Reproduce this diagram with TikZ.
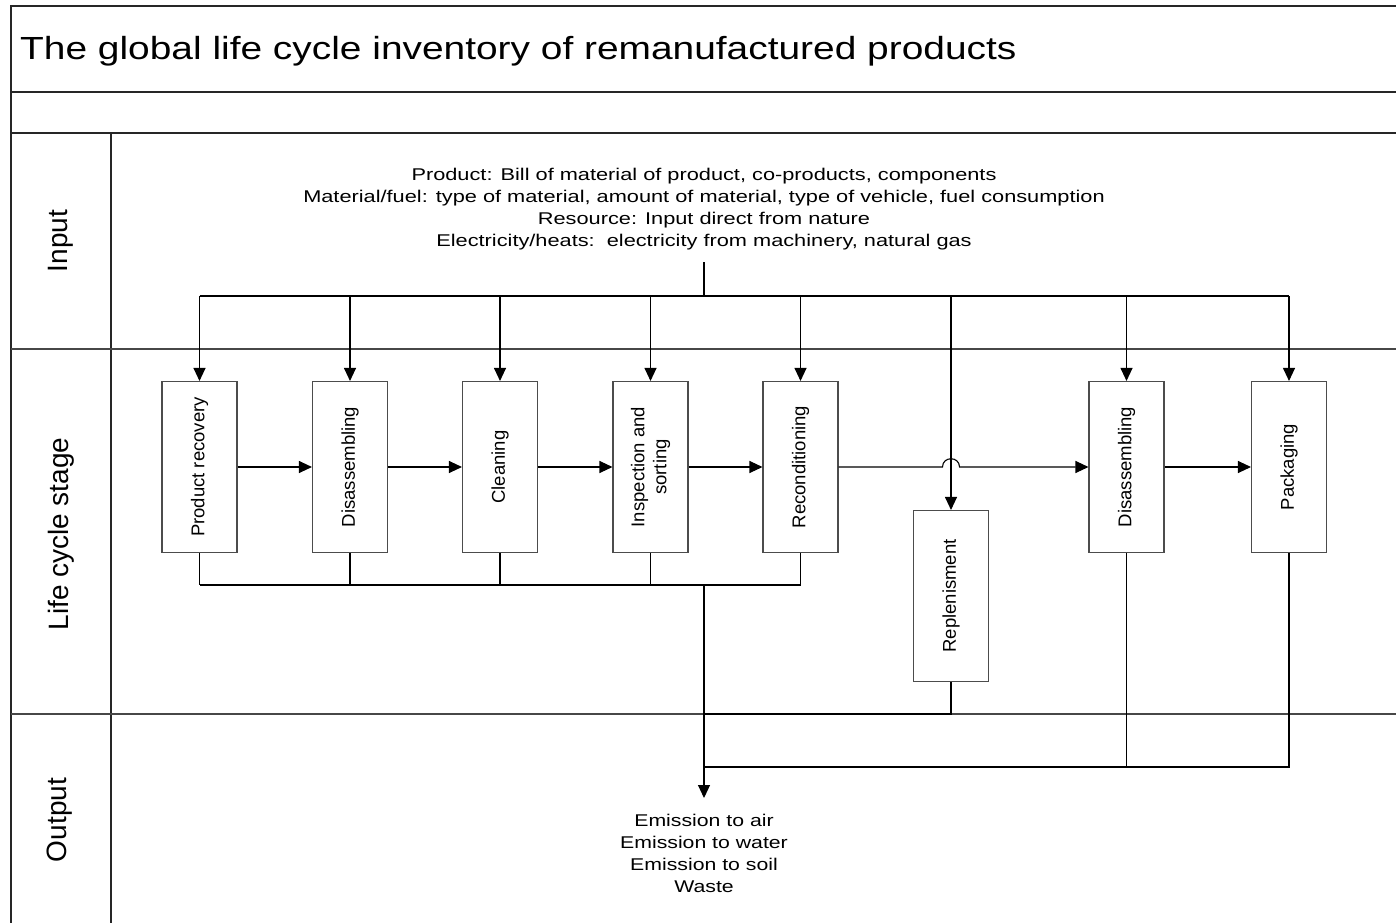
\documentclass[tikz,border=0pt]{standalone}
\usepackage{fontspec}
\usepackage{graphicx}
\setmainfont{Liberation Sans}
\usetikzlibrary{arrows.meta}
\newcommand{\hstretch}[2][1.28]{\scalebox{#1}[1]{#2}}
\begin{document}
\begin{tikzpicture}[x=1pt,y=-1pt,
  frame/.style={draw=black!85, line width=1.3pt},
  lane/.style={draw=black!72, line width=1.7pt},
  conn/.style={draw=black, line width=1.1pt},
  arr/.style={conn, -{Triangle[width=12pt,length=13pt]}},
  stage/.style={draw=black!70, line width=1.1pt, fill=white, minimum width=75pt, minimum height=171pt, inner sep=0pt},
  lbl/.style={rotate=90, font=\fontsize{18.5}{22}\selectfont, align=center, inner sep=0pt},
  lanelbl/.style={rotate=90, font=\fontsize{28}{32}\selectfont, inner sep=0pt},
  txt/.style={font=\fontsize{17}{22}\selectfont, align=center, inner sep=0pt}]
\useasboundingbox (0,0) rectangle (1396,923);
\fill[white] (0,0) rectangle (1396,923);
% frame and lanes
\draw[frame] (1396,6) -- (11,6) -- (11,923);
\draw[frame] (11,92) -- (1396,92);
\draw[frame] (11,133) -- (1396,133);
\draw[frame] (111,133) -- (111,923);
\draw[lane] (11,349) -- (1396,349);
\draw[lane] (11,714) -- (1396,714);
% title
\node[anchor=base west, inner sep=0pt, font=\fontsize{32}{38}\selectfont] (title) at (20,60) {\hstretch[1.215]{The global life cycle inventory of remanufactured products}};
% lane labels
\node[lanelbl] (linput) at (61,241) {Input};
\node[lanelbl] (lstage) at (61,534) {Life cycle stage};
\node[lanelbl] (loutput) at (60,820) {Output};
% input text
\node[txt] (intext) at (704,209) {\hstretch{Product: Bill of material of product, co-products, components}\\
\hstretch{Material/fuel: type of material, amount of material, type of vehicle, fuel consumption}\\
\hstretch{Resource: Input direct from nature}\\
\hstretch{Electricity/heats:\ \ electricity from machinery, natural gas}};
% stages
\node[stage] (s1) at (199.5,467) {};
\node[stage] (s2) at (350,467) {};
\node[stage] (s3) at (500,467) {};
\node[stage] (s4) at (650.5,467) {};
\node[stage] (s5) at (800.5,467) {};
\node[stage] (s6) at (951,596) {};
\node[stage] (s7) at (1126.5,467) {};
\node[stage] (s8) at (1289,467) {};
\node[lbl] (t1) at (s1) {Product recovery};
\node[lbl] (t2) at (s2) {Disassembling};
\node[lbl] (t3) at (s3) {Cleaning};
\node[lbl] (t4) at (s4) {Inspection and\\sorting};
\node[lbl] (t5) at (s5) {Reconditioning};
\node[lbl] (t6) at (s6) {Replenisment};
\node[lbl] (t7) at (s7) {Disassembling};
\node[lbl] (t8) at (s8) {Packaging};
% input distribution
\coordinate (intop) at (704,262);
\coordinate (bus) at (704,296);
\draw[conn] (intop) -- (bus);
\draw[conn] (s1.north |- bus) -- (s8.north |- bus);
\foreach \n in {s1,s2,s3,s4,s5,s6,s7,s8}
  \draw[arr] (\n.north |- bus) -- (\n.north);
% process flow
\draw[arr] (s1.east) -- (s2.west);
\draw[arr] (s2.east) -- (s3.west);
\draw[arr] (s3.east) -- (s4.west);
\draw[arr] (s4.east) -- (s5.west);
\draw[arr] (s5.east) -- (942.5,467) .. controls (942.5,456) and (959.5,456) .. (959.5,467) -- (s7.west);
\draw[arr] (s7.east) -- (s8.west);
% outputs
\coordinate (bot1) at (704,585);
\coordinate (outtip) at (704,798);
\coordinate (lanebot) at (704,714);
\coordinate (bot2) at (704,767);
\foreach \n in {s1,s2,s3,s4,s5}
  \draw[conn] (\n.south) -- (\n.south |- bot1);
\draw[conn] (s1.south |- bot1) -- (s5.south |- bot1);
\draw[arr] (bot1) -- (outtip);
\draw[conn] (s6.south) -- (s6.south |- lanebot) -- (lanebot);
\draw[conn] (s7.south) -- (s7.south |- bot2);
\draw[conn] (s8.south) -- (s8.south |- bot2) -- (bot2);
% output text
\node[txt] (outtext) at (704,853) {\hstretch[1.25]{Emission to air}\\
\hstretch[1.25]{Emission to water}\\
\hstretch[1.25]{Emission to soil}\\
\hstretch[1.25]{Waste}};
\end{tikzpicture}
\end{document}
